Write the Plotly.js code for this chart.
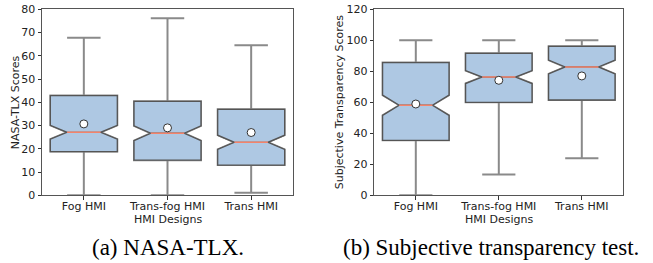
<!DOCTYPE html>
<html>
<head>
<meta charset="utf-8">
<script src="https://cdn.plot.ly/plotly-3.0.1.min.js"></script>
<style>html,body{margin:0;padding:0;background:#fff;}#chart{width:653px;height:263px;}</style>
</head>
<body>
<div id="chart"></div>
<script>
// Categories (HMI designs)
const categories = ["Fog HMI", "Trans-fog HMI", "Trans HMI"];

// (a) NASA-TLX box statistics
const tlxLower  = [0, 0, 1.1];
const tlxQ1     = [18.8, 15.1, 13.0];
const tlxMedian = [27.1, 26.7, 22.8];
const tlxQ3     = [42.9, 40.4, 37.0];
const tlxUpper  = [67.8, 76.1, 64.5];
const tlxNotch  = [3.0, 3.2, 3.05];
const tlxMean   = [30.7, 29.0, 27.0];

// (b) Subjective transparency box statistics
const stLower  = [0, 13.5, 23.9];
const stQ1     = [35.5, 60.0, 61.5];
const stMedian = [58.1, 76.3, 82.8];
const stQ3     = [85.6, 91.6, 96.1];
const stUpper  = [100, 100, 100];
const stNotch  = [6.55, 4.2, 4.5];
const stMean   = [58.9, 74.2, 77.0];

const yTitles = ["NASA-TLX Scores", "Subjective Transparency Scores"];
const xTitle = "HMI Designs";
const captions = ["(a) NASA-TLX.", "(b) Subjective transparency test."];

const pos = categories.map((c, i) => i);
const BOXW = 0.8;
const FILL = "#aec8e3";
const EDGE = "#555555";
const WHISK = "#8a8a8a";
const MED = "#f4836b";

function panel(lower, q1, med, q3, upper, notch, mean, xa, ya) {
  const common = {type: "box", x: pos, q1: q1, median: med, q3: q3,
    notched: true, notchspan: notch, notchwidth: 0.25, width: BOXW,
    xaxis: xa, yaxis: ya, showlegend: false, hoverinfo: "skip", boxpoints: false};
  const whisk = Object.assign({}, common, {lowerfence: lower, upperfence: upper,
    whiskerwidth: 0.5, fillcolor: FILL, line: {color: WHISK, width: 2}});
  const box = Object.assign({}, common, {lowerfence: q1, upperfence: q3,
    whiskerwidth: 0, fillcolor: FILL, line: {color: EDGE, width: 1.3}});
  const mx = [], my = [];
  pos.forEach((p, i) => { mx.push(p - BOXW / 4, p + BOXW / 4, null); my.push(med[i], med[i], null); });
  const medLine = {type: "scatter", mode: "lines", x: mx, y: my, xaxis: xa, yaxis: ya,
    line: {color: MED, width: 1.6}, showlegend: false, hoverinfo: "skip"};
  const meanPts = {type: "scatter", mode: "markers", x: pos, y: mean, xaxis: xa, yaxis: ya,
    marker: {color: "#ffffff", size: 8, line: {color: "#333333", width: 1}},
    showlegend: false, hoverinfo: "skip"};
  return [whisk, box, medLine, meanPts];
}

const data = [].concat(
  panel(tlxLower, tlxQ1, tlxMedian, tlxQ3, tlxUpper, tlxNotch, tlxMean, "x", "y"),
  panel(stLower, stQ1, stMedian, stQ3, stUpper, stNotch, stMean, "x2", "y2")
);

const tickFont = {family: "DejaVu Sans", size: 11, color: "#222"};
function xAxis(domain, anchor) {
  return {domain: domain, anchor: anchor, range: [-0.5, 2.5], tickvals: pos, ticktext: categories,
    ticks: "outside", ticklen: 3.5, tickcolor: "#333", showgrid: false, zeroline: false,
    showline: true, mirror: true, linecolor: EDGE, linewidth: 1, tickfont: tickFont,
    ticklabelstandoff: -3};
}
function yAxis(domain, anchor, range, dtick) {
  return {domain: domain, anchor: anchor, range: range, dtick: dtick,
    ticks: "outside", ticklen: 3.5, tickcolor: "#333", showgrid: false, zeroline: false,
    showline: true, mirror: true, linecolor: EDGE, linewidth: 1, tickfont: tickFont};
}

const yDom = [1 - 195.3 / 263, 1 - 9.3 / 263];
const yMid = (yDom[0] + yDom[1]) / 2;
const capFont = {family: "Liberation Serif", size: 23, color: "#000"};
function txt(text, x, y, font, angle) {
  return {text: text, xref: "paper", yref: "paper", x: x, y: y, xanchor: "center", yanchor: "middle",
    showarrow: false, font: font, textangle: angle || 0};
}
const layout = {
  width: 653, height: 263, margin: {l: 0, r: 0, t: 0, b: 0},
  paper_bgcolor: "#fff", plot_bgcolor: "#fff", boxmode: "overlay",
  xaxis: xAxis([42 / 653, 293 / 653], "y"),
  yaxis: yAxis(yDom, "x", [0, 80], 10),
  xaxis2: xAxis([374.3 / 653, 623.3 / 653], "y2"),
  yaxis2: yAxis(yDom, "x2", [0, 120], 20),
  annotations: [
    txt(yTitles[0], 15 / 653, yMid, tickFont, -90),
    txt(yTitles[1], 339 / 653, yMid, tickFont, -90),
    txt(xTitle, 167.5 / 653, 1 - 219 / 263, tickFont),
    txt(xTitle, 499 / 653, 1 - 219 / 263, tickFont),
    txt(captions[0], 167.5 / 653, 1 - 247 / 263, capFont),
    txt(captions[1], 491 / 653, 1 - 247 / 263, capFont)
  ]
};

Plotly.newPlot("chart", data, layout, {staticPlot: true, displayModeBar: false});
</script>
</body>
</html>
